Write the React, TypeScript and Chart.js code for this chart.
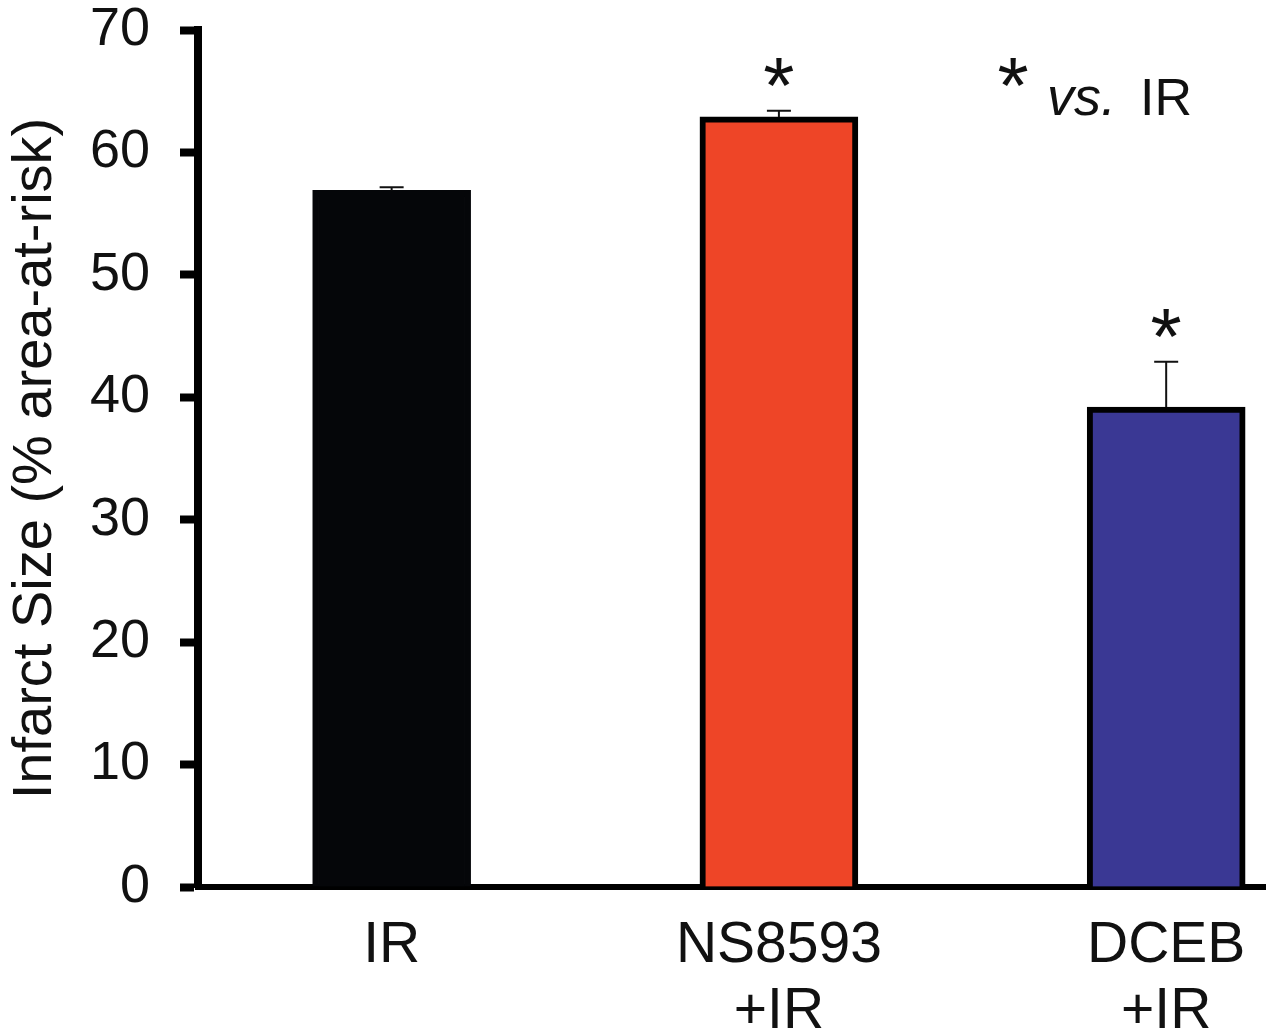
import React, { useEffect, useRef } from 'react';
import { Chart, registerables } from 'chart.js';

Chart.register(...registerables);

// ---- data ----
const categoryLabels: string[][] = [['IR'], ['NS8593', '+IR'], ['DCEB', '+IR']];
const categoryPositions: number[] = [0, 1, 2];
const meanValues: number[] = [56.9, 62.9, 39.2];
const errorValues: number[] = [0.25, 0.5, 3.7];
const significant: boolean[] = [false, true, true];
const barFill: string[] = ['#050609', '#EE4527', '#3A3894'];
const barBorder: string[] = ['#050609', '#000000', '#000000'];
const yTickValues: number[] = [0, 10, 20, 30, 40, 50, 60, 70];
const yTitle = 'Infarct Size (% area-at-risk)';
const legendMark = '*';
const legendItalic = 'vs.';
const legendRest = 'IR';

const FONT = "'Liberation Sans', Arial, Helvetica, sans-serif";

const annotationPlugin = {
  id: 'errAndStars',
  afterDatasetsDraw(chart: any) {
    const { ctx, scales } = chart;
    const x = scales.x;
    const y = scales.y;
    ctx.save();
    ctx.strokeStyle = '#111111';
    ctx.lineWidth = 2;
    meanValues.forEach((v, i) => {
      const px = x.getPixelForValue(categoryPositions[i]);
      const base = y.getPixelForValue(v);
      const top = y.getPixelForValue(v + errorValues[i]);
      ctx.beginPath();
      ctx.moveTo(px, base);
      ctx.lineTo(px, top);
      ctx.moveTo(px - 12, top);
      ctx.lineTo(px + 12, top);
      ctx.stroke();
      if (significant[i]) {
        ctx.fillStyle = '#111111';
        ctx.font = `80px ${FONT}`;
        ctx.textAlign = 'center';
        ctx.textBaseline = 'alphabetic';
        ctx.fillText('*', px, top + 2);
      }
    });
    // legend "* vs. IR"
    const starX = 1013;
    const starBase = y.getPixelForValue(meanValues[1] + errorValues[1]) + 2;
    ctx.fillStyle = '#111111';
    ctx.font = `80px ${FONT}`;
    ctx.textAlign = 'center';
    ctx.textBaseline = 'alphabetic';
    ctx.fillText(legendMark, starX, starBase);
    ctx.textAlign = 'left';
    ctx.font = `italic 54px ${FONT}`;
    ctx.fillText(legendItalic, 1047, 115);
    ctx.font = `52px ${FONT}`;
    ctx.textAlign = 'right';
    ctx.fillText(legendRest, 1192, 115);
    ctx.restore();
  },
};

export default function App() {
  const ref = useRef<HTMLCanvasElement | null>(null);
  useEffect(() => {
    if (!ref.current) return;
    const chart = new Chart(ref.current, {
      type: 'bar',
      data: {
        datasets: [
          {
            data: categoryPositions.map((p, i) => ({ x: p, y: meanValues[i] })),
            backgroundColor: barFill,
            borderColor: barBorder,
            borderWidth: 6,
            borderSkipped: 'start',
            barThickness: 158,
          } as any,
        ],
      },
      options: {
        responsive: false,
        animation: false,
        layout: { padding: { left: 0, right: 11, top: 30, bottom: 0 } },
        plugins: {
          legend: { display: false },
          tooltip: { enabled: false },
        },
        scales: {
          x: {
            type: 'linear',
            offset: false,
            min: -0.5,
            max: 2.25,
            afterBuildTicks: (scale: any) => {
              scale.ticks = categoryPositions.map((v) => ({ value: v }));
            },
            afterFit: (scale: any) => {
              scale.height = 147;
            },
            ticks: {
              autoSkip: false,
              maxRotation: 0,
              padding: 26,
              color: '#111111',
              font: { family: FONT, size: 57, lineHeight: 1.16 },
              callback: (v: any) => {
                const idx = categoryPositions.indexOf(Number(v));
                return idx >= 0 ? categoryLabels[idx] : '';
              },
            },
            grid: { display: true, offset: false, drawOnChartArea: false, drawTicks: false, color: '#000000', lineWidth: 6 },
            border: { display: true, color: '#000000', width: 6 },
          },
          y: {
            type: 'linear',
            min: 0,
            max: 70,
            afterBuildTicks: (scale: any) => {
              scale.ticks = yTickValues.map((v) => ({ value: v }));
            },
            afterFit: (scale: any) => {
              scale.width = 198;
              scale.paddingTop = 0;
              scale.paddingBottom = 0;
            },
            ticks: {
              padding: 30,
              color: '#111111',
              font: { family: FONT, size: 54 },
            },
            grid: {
              display: true,
              drawOnChartArea: false,
              drawTicks: true,
              tickLength: 18,
              tickWidth: 8,
              tickColor: '#000000',
              color: '#000000',
            },
            border: { display: true, color: '#000000', width: 8 },
            title: {
              display: true,
              text: yTitle,
              color: '#111111',
              font: { family: FONT, size: 56 },
              padding: { top: 2, bottom: 0 },
            },
          },
        },
      },
      plugins: [annotationPlugin],
    } as any);
    return () => chart.destroy();
  }, []);
  return (
    <div style={{ position: 'absolute', left: 0, top: 0, width: 1274, height: 1034, background: '#ffffff' }}>
      <canvas ref={ref} width={1274} height={1034} style={{ display: 'block' }} />
    </div>
  );
}
